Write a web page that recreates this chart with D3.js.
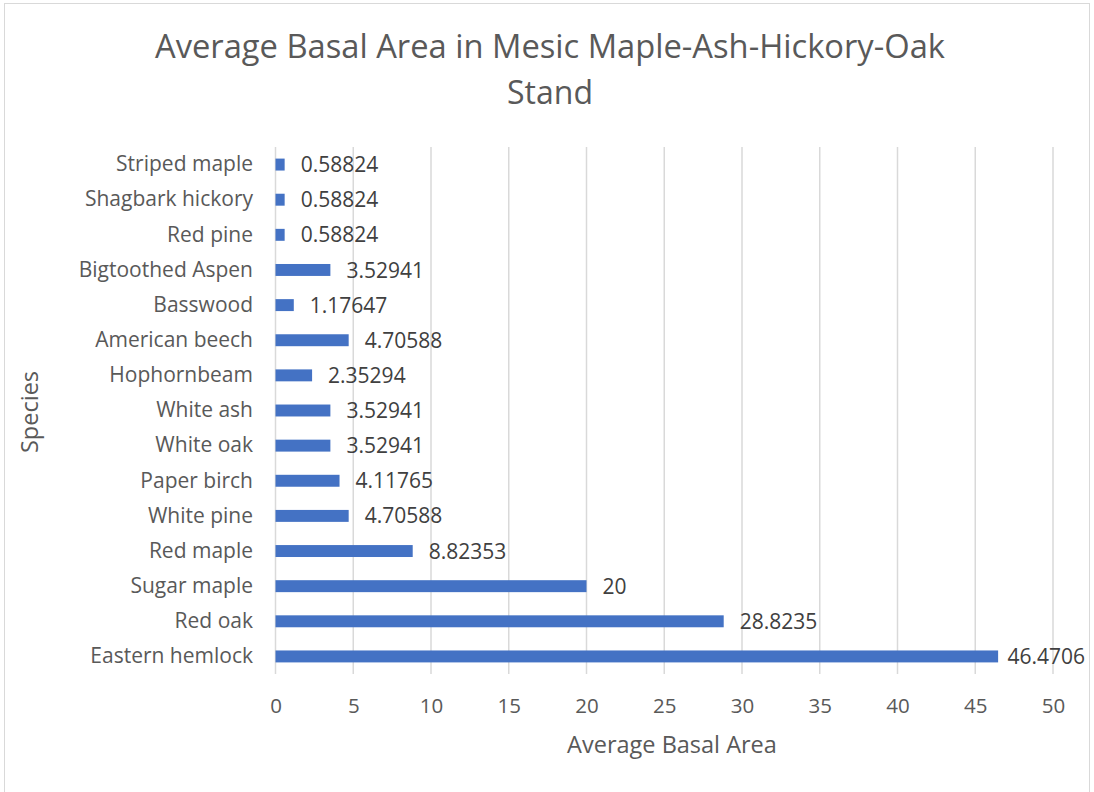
<!DOCTYPE html>
<html><head><meta charset="utf-8">
<script src="https://cdn.jsdelivr.net/npm/d3@7"></script>
<style>body{margin:0;background:#fff}svg{display:block}</style>
</head><body>
<script>
const categories = ["Striped maple","Shagbark hickory","Red pine","Bigtoothed Aspen","Basswood","American beech","Hophornbeam","White ash","White oak","Paper birch","White pine","Red maple","Sugar maple","Red oak","Eastern hemlock"];
const values = [0.58824,0.58824,0.58824,3.52941,1.17647,4.70588,2.35294,3.52941,3.52941,4.11765,4.70588,8.82353,20,28.8235,46.4706];
const valueLabels = ["0.58824","0.58824","0.58824","3.52941","1.17647","4.70588","2.35294","3.52941","3.52941","4.11765","4.70588","8.82353","20","28.8235","46.4706"];
const xTicks = [0,5,10,15,20,25,30,35,40,45,50];
const titleLines = ["Average Basal Area in Mesic Maple-Ash-Hickory-Oak","Stand"];
const xTitle = "Average Basal Area";
const yTitle = "Species";

const W=1094,H=792;
const font="'Open Sans', sans-serif";
const svg=d3.select("body").append("svg").attr("width",W).attr("height",H);
svg.append("rect").attr("x",4.5).attr("y",3.5).attr("width",1085).attr("height",800).attr("fill","#fff").attr("stroke","#d9d9d9");

const x=d3.scaleLinear().domain([0,50]).range([275.5,1053]);
const y=d3.scaleBand().domain(categories).range([147,674]).paddingInner(0.66).paddingOuter(0.33);

const g=svg.append("g");
g.selectAll("line.grid").data(xTicks).join("line").attr("class","grid")
 .attr("x1",d=>x(d)).attr("x2",d=>x(d)).attr("y1",147).attr("y2",674)
 .attr("stroke","#d9d9d9").attr("stroke-width",1.5);

const xAxis=d3.axisBottom(x).tickValues(xTicks).tickSize(0).tickPadding(0);
const xa=svg.append("g").attr("transform","translate(0,713)").call(xAxis);
xa.select(".domain").remove();
xa.selectAll("text").attr("font-family",font).attr("font-size",20.5).attr("fill","#595959").attr("dy",0);

const yAxis=d3.axisLeft(y).tickSize(0).tickPadding(0);
const ya=svg.append("g").attr("transform","translate(253,0)").call(yAxis);
ya.select(".domain").remove();
ya.selectAll("text").attr("font-family",font).attr("font-size",21).attr("fill","#595959");

g.selectAll("rect.bar").data(values).join("rect").attr("class","bar")
 .attr("x",x(0)).attr("y",(d,i)=>y(categories[i]))
 .attr("width",d=>x(d)-x(0)).attr("height",y.bandwidth()).attr("fill","#4472C4");

g.selectAll("text.val").data(values).join("text").attr("class","val")
 .attr("y",(d,i)=>y(categories[i])+y.bandwidth()/2).attr("dy","0.36em")
 .attr("font-family",font).attr("font-size",21).attr("fill","#404040")
 .text((d,i)=>valueLabels[i])
 .attr("x",function(d){ const w=this.getComputedTextLength(); return Math.min(x(d)+16, 1085-w); });

svg.selectAll("text.title").data(titleLines).join("text").attr("class","title")
 .attr("x",550).attr("y",(d,i)=>58+i*46).attr("text-anchor","middle")
 .attr("font-family",font).attr("font-size",32).attr("fill","#595959")
 .each(function(d,i){ if(i===0) d3.select(this).attr("textLength",790).attr("lengthAdjust","spacingAndGlyphs"); })
 .text(d=>d);

svg.append("text").attr("x",672).attr("y",753).attr("text-anchor","middle")
 .attr("font-family",font).attr("font-size",23.5).attr("fill","#595959").text(xTitle);
svg.append("text").attr("transform","translate(38,412) rotate(-90)").attr("text-anchor","middle")
 .attr("font-family",font).attr("font-size",23.5).attr("fill","#595959").text(yTitle);
</script>
</body></html>
